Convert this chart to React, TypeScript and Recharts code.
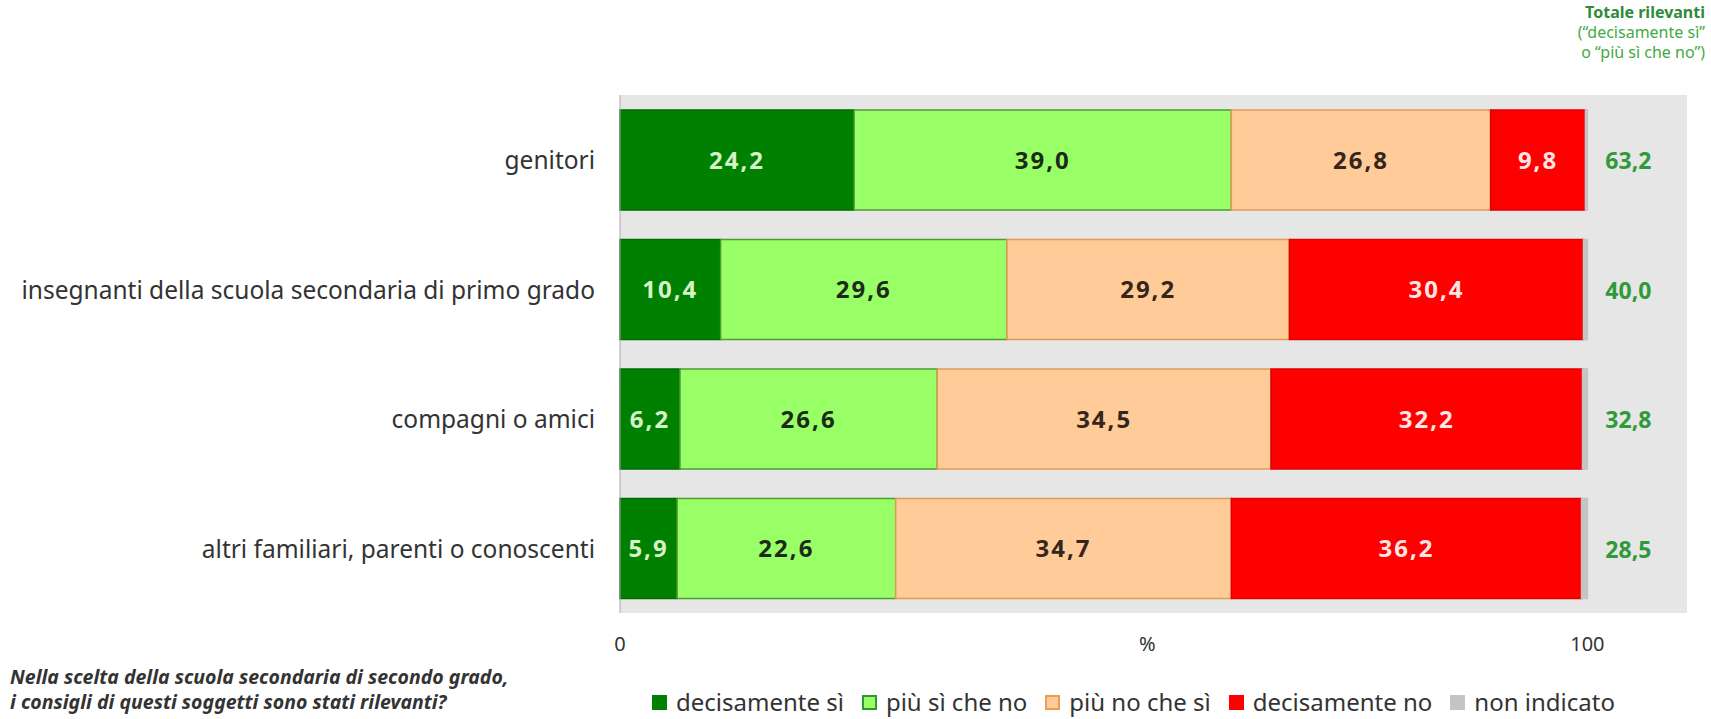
import React from 'react';
import { BarChart, Bar, XAxis, YAxis, CartesianGrid, LabelList, Legend } from 'recharts';

const categories = [
  'genitori',
  'insegnanti della scuola secondaria di primo grado',
  'compagni o amici',
  'altri familiari, parenti o conoscenti',
];
const decisamenteSi = [24.2, 10.4, 6.2, 5.9];
const piuSi = [39.0, 29.6, 26.6, 22.6];
const piuNo = [26.8, 29.2, 34.5, 34.7];
const decisamenteNo = [9.8, 30.4, 32.2, 36.2];
const nonIndicato = [0.2, 0.4, 0.5, 0.6];
const totali = [63.2, 40.0, 32.8, 28.5];
const xTicks = [0, 54.5, 100];

const data = categories.map((name, i) => ({
  name,
  ds: decisamenteSi[i],
  ps: piuSi[i],
  pn: piuNo[i],
  dn: decisamenteNo[i],
  ni: nonIndicato[i],
  tot: totali[i],
}));

const FONT = '"Noto Sans", "Open Sans", sans-serif';
const fmt = (v: any) => Number(v).toFixed(1).replace('.', ',');

const series = [
  { key: 'ds', name: 'decisamente sì', fill: '#008000', stroke: '#006a00', text: '#d8f2c8', legendStroke: '#008000' },
  { key: 'ps', name: 'più sì che no', fill: '#99ff66', stroke: '#4f9a35', text: '#1c2a1a', legendStroke: '#2e9a2e' },
  { key: 'pn', name: 'più no che sì', fill: '#ffcc99', stroke: '#e09a55', text: '#35261c', legendStroke: '#e8a050' },
  { key: 'dn', name: 'decisamente no', fill: '#ff0000', stroke: '#e00000', text: '#ffe6e6', legendStroke: '#ff0000' },
  { key: 'ni', name: 'non indicato', fill: '#c4c4c4', stroke: '#c4c4c4', text: '#333', legendStroke: '#c4c4c4' },
];

const CategoryTick = (props: any) => {
  const { x, y, payload } = props;
  return (
    <text x={x - 17} y={y} textAnchor="end" dominantBaseline="central" fontFamily={FONT} fontSize={24.5} fill="#333">
      {payload.value}
    </text>
  );
};

const TotalLabel = (props: any) => {
  const { x, y, width, height, value } = props;
  return (
    <text
      x={x + width + 41}
      y={y + height / 2}
      textAnchor="middle"
      dominantBaseline="central"
      fontFamily={FONT}
      fontWeight="bold"
      fontSize={23}
      fill="#2f9a3a"
    >
      {fmt(value)}
    </text>
  );
};

const renderLegend = () => (
  <div
    style={{
      display: 'flex',
      alignItems: 'center',
      fontFamily: FONT,
      fontSize: 24,
      lineHeight: '24px',
      color: '#333',
      whiteSpace: 'nowrap',
    }}
  >
    {series.map((s) => (
      <span key={s.key} style={{ display: 'inline-flex', alignItems: 'center', marginRight: 18 }}>
        <span
          style={{
            display: 'inline-block',
            width: 11,
            height: 11,
            background: s.fill,
            border: `2px solid ${s.legendStroke}`,
            marginRight: 9,
          }}
        />
        {s.name}
      </span>
    ))}
  </div>
);

export default function App() {
  return (
    <div style={{ position: 'absolute', left: 0, top: 0, width: 1711, height: 719, overflow: 'hidden', background: '#fff' }}>
      <div
        style={{
          position: 'absolute',
          right: 6,
          top: 2,
          textAlign: 'right',
          fontFamily: FONT,
          fontSize: 16,
          lineHeight: '20px',
          color: '#44aa44',
        }}
      >
        <div style={{ fontWeight: 'bold', color: '#2e8b3a' }}>Totale rilevanti</div>
        <div>(“decisamente sì”</div>
        <div>o “più sì che no”)</div>
      </div>
      <BarChart
        width={1711}
        height={719}
        data={data}
        layout="vertical"
        margin={{ top: 95, right: 24, bottom: 46, left: 0 }}
        barSize={100}
      >
        <CartesianGrid horizontal={false} vertical={false} fill="#e6e6e6" />
        <XAxis
          type="number"
          domain={[0, 110.3]}
          ticks={xTicks}
          tickFormatter={(v) => (v === 54.5 ? '%' : String(v))}
          axisLine={false}
          tickLine={false}
          tickSize={0}
          tickMargin={24}
          height={60}
          tick={{ fontFamily: FONT, fontSize: 20, fill: '#333' }}
        />
        <YAxis
          type="category"
          dataKey="name"
          width={620}
          tick={<CategoryTick />}
          tickLine={false}
          axisLine={{ stroke: '#aaaaaa' }}
        />
        {series.map((s) => (
          <Bar
            key={s.key}
            dataKey={s.key}
            name={s.name}
            stackId="a"
            fill={s.fill}
            stroke={s.stroke}
            strokeWidth={1.5}
            isAnimationActive={false}
          >
            {s.key !== 'ni' && (
              <LabelList
                dataKey={s.key}
                position="center"
                formatter={fmt}
                fill={s.text}
                style={{ fontFamily: FONT, fontWeight: 'bold', fontSize: 24, letterSpacing: 2 }}
              />
            )}
            {s.key === 'ni' && <LabelList dataKey="tot" content={<TotalLabel />} />}
          </Bar>
        ))}
        <Legend
          layout="horizontal"
          verticalAlign="middle"
          align="center"
          content={renderLegend}
          wrapperStyle={{ left: 652, top: 690, width: 'auto' }}
        />
      </BarChart>
      <div
        style={{
          position: 'absolute',
          left: 10,
          top: 664,
          fontFamily: FONT,
          fontSize: 19.5,
          lineHeight: '25px',
          fontWeight: 'bold',
          fontStyle: 'italic',
          color: '#333',
        }}
      >
        <div>Nella scelta della scuola secondaria di secondo grado,</div>
        <div>i consigli di questi soggetti sono stati rilevanti?</div>
      </div>
    </div>
  );
}
